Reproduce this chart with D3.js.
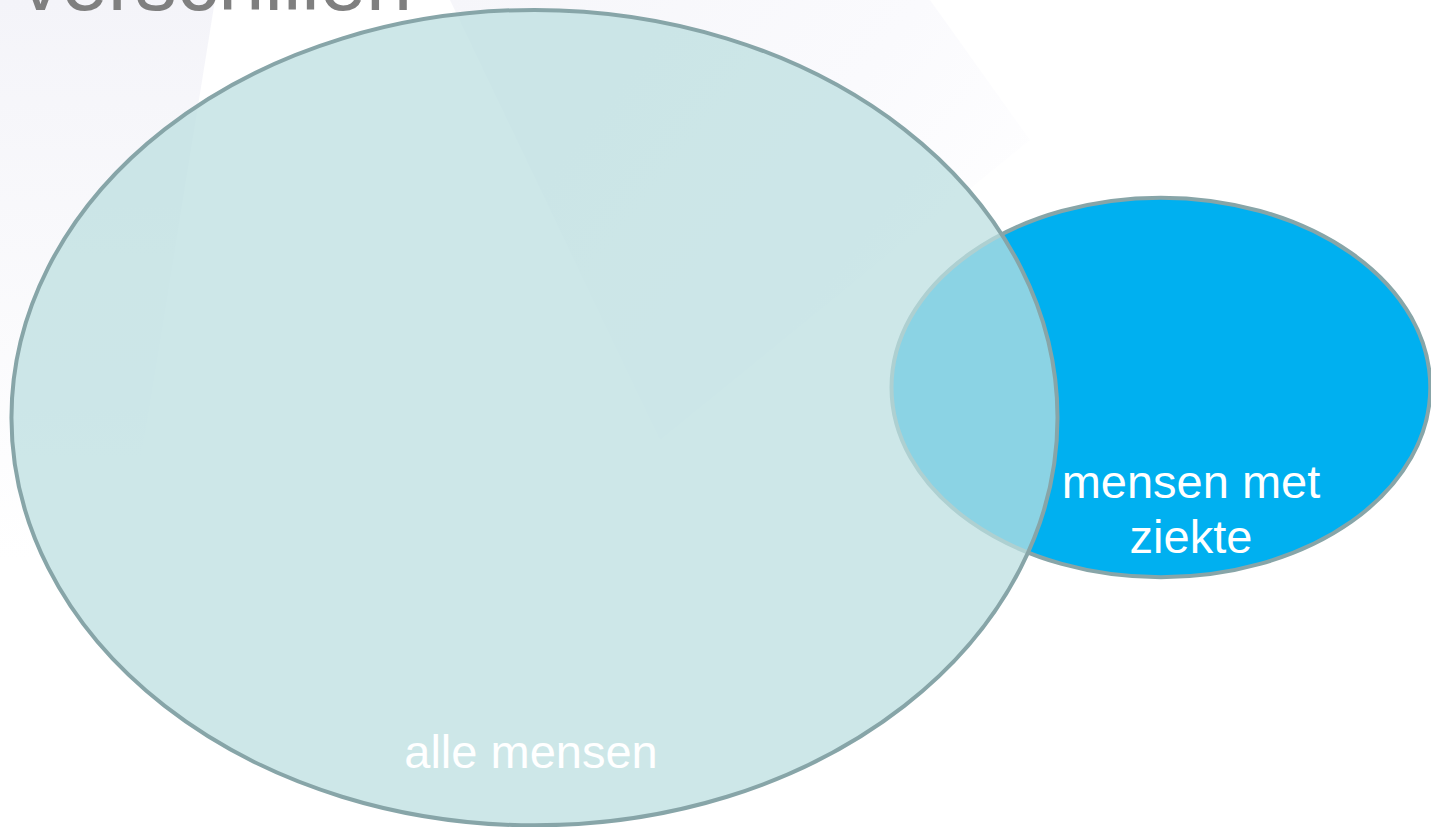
<!DOCTYPE html>
<html>
<head>
<meta charset="utf-8">
<script src="https://cdn.jsdelivr.net/npm/d3@7"></script>
<style>
  body { margin: 0; background: #fff; }
  svg { display: block; }
</style>
</head>
<body>
<script>
const width = 1431;
const height = 827;

// sets of the venn diagram (drawn in this order, last on top)
const setNames = ["mensen met ziekte", "alle mensen"];
const setLabels = [["mensen met", "ziekte"], ["alle mensen"]];
const setFill = ["#00b0f0", "#bbdfe0"];
const setOpacity = [1, 0.74];
// ellipse extents in a 0..100 unit space
const setX0 = [62.3, 0.8];
const setX1 = [99.95, 73.9];
const setY0 = [23.9, 1.2];
const setY1 = [69.8, 99.8];
const titleText = "verschillen";

const x = d3.scaleLinear().domain([0, 100]).range([0, width]);
const y = d3.scaleLinear().domain([0, 100]).range([0, height]);

const sets = setNames.map((name, i) => ({
  name: name,
  label: setLabels[i],
  fill: setFill[i],
  opacity: setOpacity[i],
  x0: setX0[i], x1: setX1[i], y0: setY0[i], y1: setY1[i],
}));

const svg = d3.select("body").append("svg")
  .attr("width", width)
  .attr("height", height);

const defs = svg.append("defs");
const g1 = defs.append("linearGradient").attr("id", "bgLeft")
  .attr("x1", 0).attr("y1", 0).attr("x2", 0).attr("y2", 1);
g1.append("stop").attr("offset", 0).attr("stop-color", "#f4f4f9");
g1.append("stop").attr("offset", 1).attr("stop-color", "#ffffff");
const g2 = defs.append("linearGradient").attr("id", "bgV")
  .attr("x1", 0).attr("y1", 0).attr("x2", 1).attr("y2", 0.6);
g2.append("stop").attr("offset", 0).attr("stop-color", "#f6f6fa");
g2.append("stop").attr("offset", 0.6).attr("stop-color", "#fafafd");
g2.append("stop").attr("offset", 1).attr("stop-color", "#ffffff");

// faint background decoration
svg.append("rect").attr("width", width).attr("height", height).attr("fill", "#fff");
svg.append("path")
  .attr("d", "M0,0 L215,0 L125,560 L0,560 Z")
  .attr("fill", "url(#bgLeft)");
svg.append("path")
  .attr("d", "M450,0 L930,0 L1030,140 L660,440 Z")
  .attr("fill", "url(#bgV)");

// title (cut at top edge)
svg.append("text")
  .attr("x", 20)
  .attr("y", 10)
  .attr("font-family", "Liberation Sans, Arial, sans-serif")
  .attr("font-size", 83)
  .attr("fill", "#7f7f7f")
  .text(titleText);

// ellipses
svg.append("g")
  .selectAll("ellipse")
  .data(sets)
  .join("ellipse")
  .attr("cx", (d) => (x(d.x0) + x(d.x1)) / 2)
  .attr("cy", (d) => (y(d.y0) + y(d.y1)) / 2)
  .attr("rx", (d) => (x(d.x1) - x(d.x0)) / 2)
  .attr("ry", (d) => (y(d.y1) - y(d.y0)) / 2)
  .attr("fill", (d) => d.fill)
  .attr("fill-opacity", (d) => d.opacity)
  .attr("stroke", "#87a5a8")
  .attr("stroke-width", 4);

// labels
const labelPos = [
  { x: 1191, y: 498 },
  { x: 531, y: 768 },
];
const labels = svg.append("g")
  .selectAll("text")
  .data(sets)
  .join("text")
  .attr("text-anchor", "middle")
  .attr("font-family", "Liberation Sans, Arial, sans-serif")
  .attr("font-size", 47)
  .attr("fill", "#fff")
  .attr("x", (d, i) => labelPos[i].x)
  .attr("y", (d, i) => labelPos[i].y);
labels.selectAll("tspan")
  .data((d) => d.label)
  .join("tspan")
  .attr("x", function () { return this.parentNode.getAttribute("x"); })
  .attr("dy", (d, i) => (i === 0 ? 0 : 55))
  .text((d) => d);
</script>
</body>
</html>
